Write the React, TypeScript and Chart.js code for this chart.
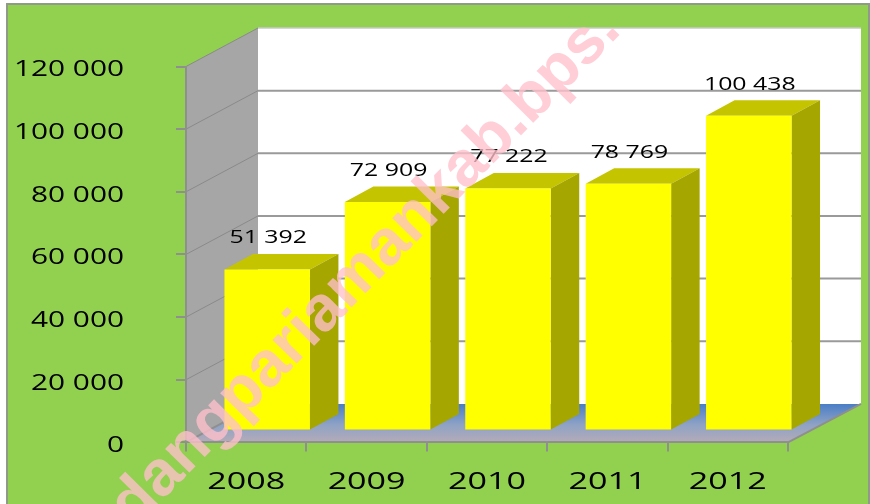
import React, { useEffect, useRef } from "react";
import { Chart, registerables } from "chart.js";

Chart.register(...registerables);

const categories = ["2008", "2009", "2010", "2011", "2012"];
const production = [51392, 72909, 77222, 78769, 100438];
const yMax = 120000;
const yStep = 20000;
const watermark = "dangpariamankab.bps.";

const FONT = '"Open Sans", sans-serif';
const STRETCH = 1.42;
const BACK = { x: 72, y: -38.5 };
const BAR_SHIFT = { x: 21, y: -12 };
const BAR_DEPTH = { x: 28.5, y: -15.5 };

const fmt = (v: number) => String(v).replace(/\B(?=(\d{3})+$)/g, " ");

function poly(ctx: CanvasRenderingContext2D, pts: number[][], fill: string | CanvasGradient) {
  ctx.beginPath();
  pts.forEach(([x, y], i) => (i ? ctx.lineTo(x, y) : ctx.moveTo(x, y)));
  ctx.closePath();
  ctx.fillStyle = fill;
  ctx.fill();
}

function stretchLabels(scale: any) {
  if (scale.__stretched) return;
  scale.__stretched = true;
  const original = scale.drawLabels;
  scale.drawLabels = function (area: any) {
    const c = this.ctx;
    const ft = c.fillText;
    c.fillText = function (t: string, x: number, y: number) {
      c.save();
      c.translate(x, y);
      c.scale(STRETCH, 1);
      ft.call(c, t, 0, 0);
      c.restore();
    };
    original.call(this, area);
    delete c.fillText;
  };
}

const scene3d = {
  id: "scene3d",
  beforeDraw(chart: any) {
    const { ctx, scales } = chart;
    const { x, y } = scales;
    stretchLabels(x);
    stretchLabels(y);
    const L = x.left;
    const R = x.right;
    const y0 = y.getPixelForValue(0);
    const yT = y.getPixelForValue(yMax);
    ctx.save();
    ctx.fillStyle = "#ffffff";
    ctx.fillRect(0, 0, chart.width, chart.height);
    ctx.fillStyle = "#92D050";
    ctx.fillRect(7, 4, 862, 520);
    ctx.strokeStyle = "#8f9a88";
    ctx.lineWidth = 2;
    ctx.strokeRect(7, 4, 862, 520);

    // back wall
    poly(ctx, [[L + BACK.x, yT + BACK.y], [R + BACK.x + 1, yT + BACK.y], [R + BACK.x + 1, y0 + BACK.y], [L + BACK.x, y0 + BACK.y]], "#ffffff");
    ctx.strokeStyle = "#c8c8c8";
    ctx.lineWidth = 1.5;
    ctx.beginPath();
    ctx.moveTo(L + BACK.x, yT + BACK.y);
    ctx.lineTo(R + BACK.x + 1, yT + BACK.y);
    ctx.stroke();
    // side wall
    poly(ctx, [[L, yT], [L + BACK.x, yT + BACK.y], [L + BACK.x, y0 + BACK.y], [L, y0]], "#A6A6A6");
    // floor
    const g = ctx.createLinearGradient(0, y0 + BACK.y, 0, y0);
    g.addColorStop(0, "#4A7EC6");
    g.addColorStop(0.55, "#8FA3C4");
    g.addColorStop(1, "#B4ABB8");
    poly(ctx, [[L, y0], [R, y0], [R + BACK.x + 1, y0 + BACK.y], [L + BACK.x, y0 + BACK.y]], g);

    // grid lines follow the y scale along both walls
    for (let v = yStep; v <= yMax; v += yStep) {
      const p = y.getPixelForValue(v);
      ctx.strokeStyle = "#8a8a8a";
      ctx.lineWidth = 1;
      ctx.beginPath();
      ctx.moveTo(L, p);
      ctx.lineTo(L + BACK.x, p + BACK.y);
      ctx.stroke();
      if (v < yMax) {
        ctx.strokeStyle = "#9a9a9a";
        ctx.lineWidth = 2;
        ctx.beginPath();
        ctx.moveTo(L + BACK.x, p + BACK.y);
        ctx.lineTo(R + BACK.x + 1, p + BACK.y);
        ctx.stroke();
      }
    }
    // outline of side wall and floor front
    ctx.strokeStyle = "#8f8f8f";
    ctx.lineWidth = 2;
    ctx.beginPath();
    ctx.moveTo(L + BACK.x, y0 + BACK.y);
    ctx.lineTo(L, y0);
    ctx.moveTo(R, y0);
    ctx.lineTo(R + BACK.x + 1, y0 + BACK.y);
    ctx.stroke();
    ctx.restore();
  },
  beforeDatasetsDraw(chart: any) {
    const { ctx } = chart;
    const bars = chart.getDatasetMeta(0).data;
    ctx.save();
    ctx.translate(BAR_SHIFT.x, BAR_SHIFT.y);
    bars.forEach((b: any) => {
      const l = b.x - b.width / 2;
      const r = b.x + b.width / 2;
      const d = BAR_DEPTH;
      poly(ctx, [[l, b.y], [r, b.y], [r + d.x, b.y + d.y], [l + d.x, b.y + d.y]], "#C4C400");
      poly(ctx, [[r, b.y], [r + d.x, b.y + d.y], [r + d.x, b.base + d.y], [r, b.base]], "#A6A600");
    });
  },
  afterDatasetsDraw(chart: any) {
    const { ctx } = chart;
    ctx.restore();
    const bars = chart.getDatasetMeta(0).data;
    ctx.save();
    ctx.fillStyle = "#000000";
    ctx.font = `17.5px ${FONT}`;
    ctx.textAlign = "center";
    ctx.textBaseline = "middle";
    bars.forEach((b: any, i: number) => {
      ctx.save();
      ctx.translate(b.x + BAR_SHIFT.x + 1, b.y + BAR_SHIFT.y - 31);
      ctx.scale(STRETCH, 1);
      ctx.fillText(fmt(production[i]), 0, 0);
      ctx.restore();
    });
    ctx.restore();
  },
  afterDraw(chart: any) {
    const { ctx } = chart;
    ctx.save();
    ctx.translate(134, 529);
    ctx.rotate((-45.5 * Math.PI) / 180);
    ctx.font = 'bold 64px "Liberation Sans", sans-serif';
    ctx.textAlign = "left";
    ctx.textBaseline = "alphabetic";
    ctx.fillStyle = "rgba(255,192,203,0.78)";
    ctx.fillText(watermark, 0, 0);
    ctx.restore();
  },
};

export default function App() {
  const ref = useRef<HTMLCanvasElement>(null);
  useEffect(() => {
    const chart = new Chart(ref.current!, {
      type: "bar",
      data: {
        labels: categories,
        datasets: [
          {
            data: production,
            backgroundColor: "#FFFF00",
            borderWidth: 0,
            categoryPercentage: 1,
            barPercentage: 0.71,
            clip: false,
          } as any,
        ],
      },
      options: {
        animation: false,
        responsive: false,
        devicePixelRatio: 1,
        layout: { padding: { top: 66.5, right: 82, left: 0, bottom: 0 } },
        plugins: { legend: { display: false }, tooltip: { enabled: false } },
        scales: {
          x: {
            afterFit: (s: any) => {
              s.height = 59;
            },
            border: { display: true, color: "#8f8f8f", width: 2 },
            grid: { drawOnChartArea: false, color: "#8f8f8f", lineWidth: 2, tickLength: 9 },
            ticks: {
              autoSkip: false,
              maxRotation: 0,
              color: "#000",
              padding: 16,
              font: { family: FONT, size: 24 },
            },
          },
          y: {
            min: 0,
            max: yMax,
            afterFit: (s: any) => {
              s.width = 186;
            },
            border: { display: true, color: "#8f8f8f", width: 2 },
            grid: { drawOnChartArea: false, color: "#8f8f8f", lineWidth: 2, tickLength: 10 },
            ticks: {
              stepSize: yStep,
              color: "#000",
              padding: 52,
              labelOffset: 4,
              font: { family: FONT, size: 21 },
              callback: (v: any) => fmt(Number(v)),
            },
          },
        },
      },
      plugins: [scene3d],
    } as any);
    return () => chart.destroy();
  }, []);
  return (
    <div style={{ position: "absolute", left: 0, top: 0, width: 870, height: 504, overflow: "hidden" }}>
      <canvas ref={ref} width={870} height={507} style={{ display: "block" }} />
    </div>
  );
}
